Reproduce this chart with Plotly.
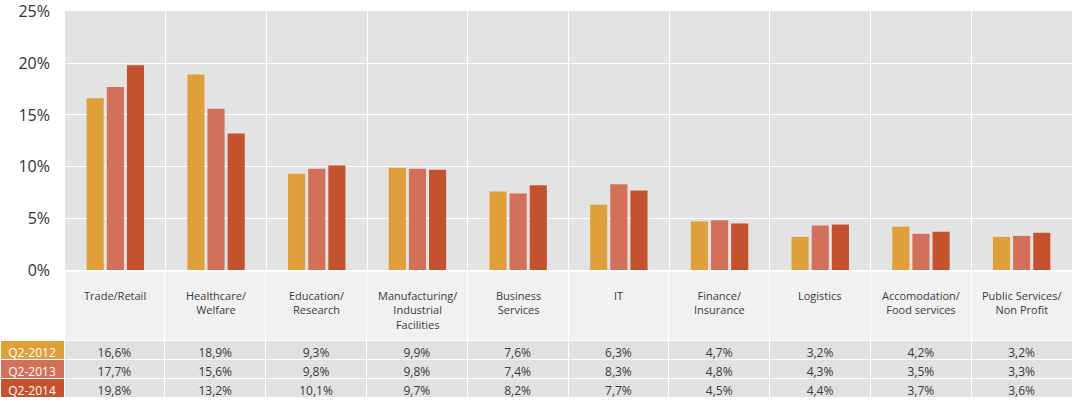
import plotly.graph_objects as go

categories = ["Trade/Retail", "Healthcare/Welfare", "Education/Research",
              "Manufacturing/Industrial Facilities", "Business Services", "IT",
              "Finance/Insurance", "Logistics", "Accomodation/Food services",
              "Public Services/Non Profit"]
category_labels = ["Trade/Retail", "Healthcare/<br>Welfare", "Education/<br>Research",
                   "Manufacturing/<br>Industrial<br>Facilities", "Business<br>Services", "IT",
                   "Finance/<br>Insurance", "Logistics", "Accomodation/<br>Food services",
                   "Public Services/<br>Non Profit"]
series_names = ["Q2-2012", "Q2-2013", "Q2-2014"]
q2_2012 = [16.6, 18.9, 9.3, 9.9, 7.6, 6.3, 4.7, 3.2, 4.2, 3.2]
q2_2013 = [17.7, 15.6, 9.8, 9.8, 7.4, 8.3, 4.8, 4.3, 3.5, 3.3]
q2_2014 = [19.8, 13.2, 10.1, 9.7, 8.2, 7.7, 4.5, 4.4, 3.7, 3.6]
y_ticks = [0, 5, 10, 15, 20, 25]

series_values = [q2_2012, q2_2013, q2_2014]
colors = ["#DFA03C", "#D2705A", "#C5522F"]

W, H = 1074, 403
mt, mb, ml, mr = 11, 4, 0, 2
inner_w = W - ml - mr
inner_h = H - mt - mb
plot_left = 65
plot_bottom_px = 270
table_top_px = 271
label_top_px = 286

FONT = "Open Sans"

def py(px):
    return (H - mb - px) / inner_h

fig = go.Figure()
for name, vals, c in zip(series_names, series_values, colors):
    fig.add_trace(go.Bar(x=categories, y=vals, name=name, marker_color=c,
                         marker_line_width=0, showlegend=False))

def fmt(v):
    return f"{v:.1f}".replace(".", ",") + "%"

cols = [series_names] + [[fmt(s[i]) for s in series_values] for i in range(len(categories))]
cell_fill = [colors] + [["#E1E1E1"] * 3 for _ in categories]
cell_font_color = [["white"] * 3] + [["#3a3a3a"] * 3 for _ in categories]

fig.add_trace(go.Table(
    domain=dict(x=[0, 1], y=[0, py(table_top_px)]),
    columnwidth=[64] + [100.8] * len(categories),
    header=dict(values=[""] * (len(categories) + 1),
                fill_color=["rgba(0,0,0,0)"] + ["#F1F1F1"] * len(categories),
                line=dict(color=["rgba(0,0,0,0)"] + ["white"] * len(categories), width=1),
                align="center", height=69,
                font=dict(family=FONT, size=11, color="#3a3a3a")),
    cells=dict(values=cols, fill_color=cell_fill,
               line=dict(color="white", width=1),
               align="center", height=19,
               font=dict(family=FONT, size=12, color=cell_font_color)),
))

for cat, lab in zip(categories, category_labels):
    fig.add_annotation(x=cat, xref="x", y=py(label_top_px), yref="paper",
                       text=lab, showarrow=False, xanchor="center", yanchor="top",
                       align="center",
                       font=dict(family=FONT, size=11, color="#3a3a3a"))

fig.update_layout(
    width=W, height=H, autosize=False,
    margin=dict(l=ml, r=mr, t=mt, b=mb, autoexpand=False),
    paper_bgcolor="white",
    plot_bgcolor="#E3E3E3",
    barmode="group", bargap=0.4, bargroupgap=0.15,
    font=dict(family=FONT, color="#333333"),
    xaxis=dict(domain=[plot_left / inner_w, 1], showticklabels=False,
               tickson="boundaries", showgrid=True, gridcolor="white", gridwidth=1,
               ticks="", zeroline=False, showline=False, automargin=False,
               range=[-0.5, len(categories) - 0.5]),
    yaxis=dict(domain=[py(plot_bottom_px), 1], range=[0, 25.05],
               tickvals=y_ticks, ticktext=[f"{t}%" for t in y_ticks],
               showgrid=True, gridcolor="white", gridwidth=1, zeroline=False,
               tickfont=dict(family=FONT, size=16, color="#333333"),
               ticks="", ticklabelstandoff=14, automargin=False),
)

fig.write_html("out.html", config={"displayModeBar": False},
               post_script="document.body.style.margin='0';document.body.style.padding='0';")
